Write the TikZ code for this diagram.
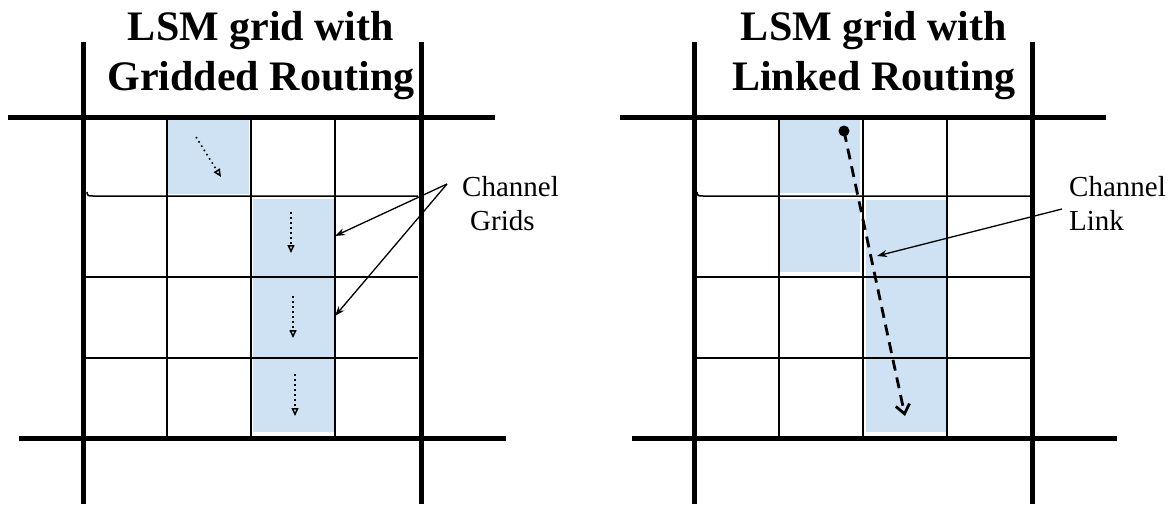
\documentclass[tikz,border=0pt]{standalone}
\usepackage{fontspec}
\setmainfont{Liberation Serif}
\usetikzlibrary{arrows.meta}
\definecolor{cellblue}{HTML}{CFE2F3}
\tikzset{
  thickline/.style={line width=5pt},
  thinline/.style={line width=1.5pt},
  cellfill/.style={fill=cellblue},
  titletext/.style={font=\fontsize{42}{50}\selectfont\bfseries, align=center, inner sep=0pt},
  lbltext/.style={font=\fontsize{29}{34}\selectfont, align=left, inner sep=0pt},
  callout/.style={line width=1.3pt, -{Stealth[length=10pt,width=7pt]}},
  flowarrow/.style={dash pattern=on 1.6pt off 3.4pt, line width=1.6pt, -{Triangle[open,length=8pt,width=7pt,line width=1.5pt]}},
  linkarrow/.style={line width=2.8pt, dash pattern=on 11pt off 7pt, -{Straight Barb[length=9pt,width=14pt,line width=2.8pt]}},
}
\begin{document}
\begin{tikzpicture}[x=1pt,y=-1pt]
\useasboundingbox (0,0) rectangle (1168,504);

% ---------- LEFT PANEL ----------
\fill[cellfill] (168,119) rectangle (249,194);
\fill[cellfill] (253,199) rectangle (334,432);
% thin grid
\foreach \x in {167,251,335} \draw[thinline] (\x,117) -- (\x,438);
\draw[thinline] (87,192) .. controls (87,196) and (89,196) .. (93,196) -- (418,196);
\foreach \y in {277,358} \draw[thinline] (86,\y) -- (418,\y);
% thick lines
\draw[thickline] (83,42) -- (83,504);
\draw[thickline] (421,42) -- (421,504);
\draw[thickline] (8,117) -- (495,117);
\draw[thickline] (19,438) -- (506,438);

\node[titletext] (titleL) at (261,56) {LSM grid with\\Gridded Routing};

% flow arrows
\coordinate (fa1) at (196,137); \coordinate (fb1) at (221,177);
\coordinate (fa2) at (291,212); \coordinate (fb2) at (291,253);
\coordinate (fa3) at (293,296); \coordinate (fb3) at (293,338);
\coordinate (fa4) at (295,374); \coordinate (fb4) at (295,416);
\draw[flowarrow] (fa1) -- (fb1);
\draw[flowarrow] (fa2) -- (fb2);
\draw[flowarrow] (fa3) -- (fb3);
\draw[flowarrow] (fa4) -- (fb4);

\node[lbltext, anchor=north west] (gridsLbl) at (462,176) {Channel\\\hspace*{8pt}Grids};
\coordinate (gridsFrom) at (447,184);
\coordinate (gridA) at (335,236);
\coordinate (gridB) at (335,316);
\draw[callout] (gridsFrom) -- (gridA);
\draw[callout] (gridsFrom) -- (gridB);

% ---------- RIGHT PANEL ----------
\fill[cellfill] (780,119) rectangle (860,193);
\fill[cellfill] (780,199) rectangle (860,272);
\fill[cellfill] (866,200) rectangle (946,432);
\foreach \x in {779,863,947} \draw[thinline] (\x,117) -- (\x,438);
\draw[thinline] (697,192) .. controls (697,196) and (699,196) .. (703,196) -- (1030,196);
\foreach \y in {277,358} \draw[thinline] (696,\y) -- (1030,\y);
\draw[thickline] (694,42) -- (694,504);
\draw[thickline] (1032,42) -- (1032,504);
\draw[thickline] (620,117) -- (1106,117);
\draw[thickline] (632,438) -- (1117,438);

\node[titletext] (titleR) at (874,56) {LSM grid with\\Linked Routing};

\node[circle, fill=black, inner sep=0pt, minimum size=11pt] (linkStart) at (844,131) {};
\coordinate (linkEnd) at (905,416);
\draw[linkarrow] (linkStart.center) -- (linkEnd);

\node[lbltext, anchor=north west] (linkLbl) at (1069,176) {Channel\\Link};
\coordinate (linkFrom) at (1062,209);
\coordinate (linkTo) at (877,256);
\draw[callout] (linkFrom) -- (linkTo);
\end{tikzpicture}
\end{document}
